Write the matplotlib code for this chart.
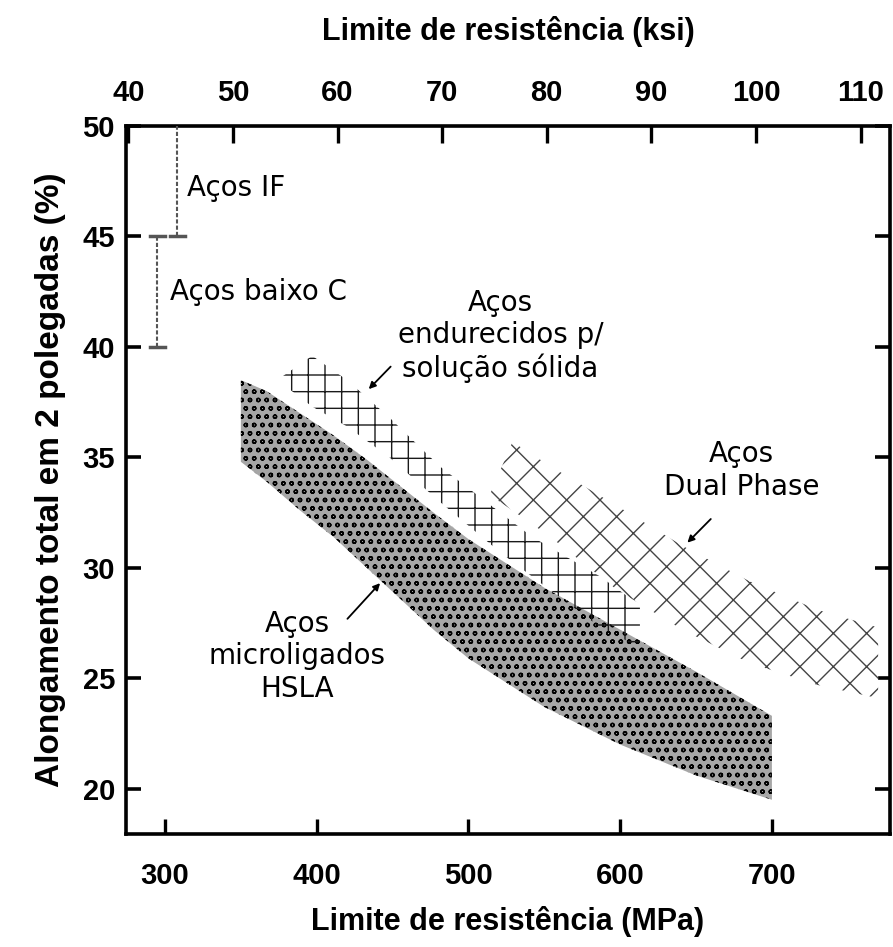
import numpy as np
import matplotlib
matplotlib.use("Agg")
import matplotlib.pyplot as plt

# ---------------- data ----------------
# HSLA (microalloyed) band
hsla_x = [350, 367, 389, 411, 433, 455, 477, 500, 550, 600, 650, 700]
hsla_hi = [38.5, 38.0, 37.0, 36.0, 34.9, 33.7, 32.5, 31.3, 29.1, 27.2, 25.3, 23.3]
hsla_lo = [34.8, 33.9, 32.6, 31.4, 30.0, 28.6, 27.2, 25.9, 23.7, 22.0, 20.6, 19.5]

# Solid-solution strengthened band
ss_x = [376, 397, 420, 448, 481, 521, 542, 587, 613]
ss_hi = [38.6, 39.6, 38.5, 36.8, 34.6, 32.5, 31.4, 29.6, 28.3]
ss_lo = [38.4, 37.3, 36.4, 35.0, 33.0, 30.7, 29.6, 27.3, 26.4]

# Dual phase band
dp_x = [514, 529, 554, 598, 641, 685, 730, 770]
dp_hi = [33.3, 35.7, 34.6, 32.8, 31.0, 29.4, 28.1, 27.3]
dp_lo = [33.3, 32.6, 31.4, 29.0, 27.2, 25.7, 24.7, 24.1]

# range bars (MPa position, low %, high %)
if_bar = (308, 45, 50)
lowc_bar = (295, 40, 45)

mpa_ticks = [300, 400, 500, 600, 700]
ksi_ticks = [40, 50, 60, 70, 80, 90, 100, 110]
y_ticks = [20, 25, 30, 35, 40, 45, 50]

# ---------------- fonts ----------------
bold_fam = ['Liberation Sans', 'DejaVu Sans']
note_fam = ['DejaVu Sans']

plt.rcParams['hatch.linewidth'] = 1.0

fig = plt.figure(figsize=(8.93, 9.47), dpi=100)
ax = fig.add_axes([0.1411, 0.1193, 0.8555, 0.7476])
ax.set_xlim(274.3, 777.8)
ax.set_ylim(17.95, 50.0)

# bands
ax.fill_between(hsla_x, hsla_lo, hsla_hi, facecolor='#a6a6a6', edgecolor='black',
                hatch='oo', linewidth=0, zorder=2)
ax.fill_between(ss_x, ss_lo, ss_hi, facecolor='none', edgecolor='#1a1a1a',
                hatch='+', linewidth=0, zorder=3)
ax.fill_between(dp_x, dp_lo, dp_hi, facecolor='white', edgecolor='#444444',
                hatch='x', linewidth=0, zorder=2)

# range bars
for (xm, lo, hi), caps in ((if_bar, 'bottom'), (lowc_bar, 'both')):
    ax.plot([xm, xm], [lo, hi], color='#555555', lw=1.5, ls=(0, (2, 1)), zorder=4)
    if caps in ('bottom', 'both'):
        ax.plot([xm - 5, xm + 5], [lo, lo], color='#555555', lw=2.5, zorder=4)
    if caps == 'both':
        ax.plot([xm - 5, xm + 5], [hi, hi], color='#555555', lw=2.5, zorder=4)

# annotations
fs_note = 20
ax.text(314.5, 47.2, 'Aços IF', fontsize=fs_note, family=note_fam, va='center', ha='left')
ax.text(303.3, 42.5, 'Aços baixo C', fontsize=fs_note, family=note_fam, va='center', ha='left')
ax.text(521, 40.5, 'Aços\nendurecidos p/\nsolução sólida', fontsize=fs_note, family=note_fam,
        va='center', ha='center', linespacing=1.2)
ax.annotate('', xy=(433, 38.0), xytext=(450, 39.2),
            arrowprops=dict(arrowstyle='-|>', color='black', lw=1.3, mutation_scale=10))
ax.text(680, 34.4, 'Aços\nDual Phase', fontsize=fs_note, family=note_fam,
        va='center', ha='center', linespacing=1.2)
ax.annotate('', xy=(643, 31.05), xytext=(661, 32.3),
            arrowprops=dict(arrowstyle='-|>', color='black', lw=1.3, mutation_scale=10))
ax.text(387, 26.0, 'Aços\nmicroligados\nHSLA', fontsize=fs_note, family=note_fam,
        va='center', ha='center', linespacing=1.2)
ax.annotate('', xy=(443, 29.4), xytext=(419, 27.6),
            arrowprops=dict(arrowstyle='-|>', color='black', lw=1.3, mutation_scale=10))

# axes styling
for s in ax.spines.values():
    s.set_linewidth(2.6)
ax.set_xticks(mpa_ticks)
ax.set_yticks(y_ticks)
ax.tick_params(axis='x', direction='in', length=11, width=2.4, labelsize=21, pad=20)
ax.tick_params(axis='y', direction='in', length=11, width=2.6, labelsize=21, pad=8,
               right=True)
for lab in ax.get_xticklabels() + ax.get_yticklabels():
    lab.set_family(bold_fam)
    lab.set_fontweight('bold')

ax.set_xlabel('Limite de resistência (MPa)', fontsize=22, fontweight='bold',
              family=bold_fam, labelpad=12)
ax.set_ylabel('Alongamento total em 2 polegadas (%)', fontsize=24, fontweight='bold',
              family=bold_fam, labelpad=12)

sec = ax.secondary_xaxis('top', functions=(lambda m: m / 6.895, lambda k: k * 6.895))
sec.set_xticks(ksi_ticks)
sec.tick_params(direction='in', length=12, width=2.4, labelsize=21, pad=14)
for lab in sec.get_xticklabels():
    lab.set_family(bold_fam)
    lab.set_fontweight('bold')
sec.set_xlabel('Limite de resistência (ksi)', fontsize=22, fontweight='bold',
               family=bold_fam, labelpad=28)

fig.savefig('out.png', dpi=100)
